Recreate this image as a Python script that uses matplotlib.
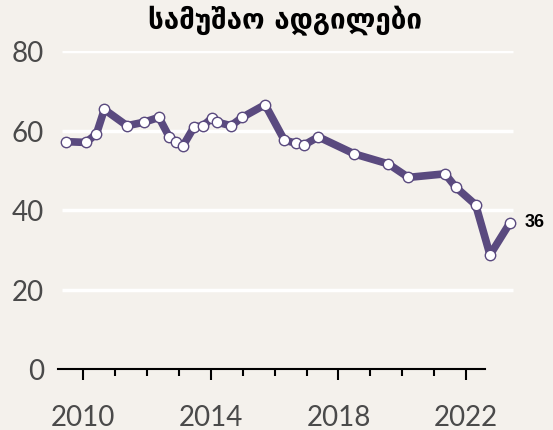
import matplotlib.pyplot as plt

# data
years = [2009.45, 2010.08, 2010.41, 2010.66, 2011.37, 2011.91, 2012.37,
         2012.70, 2012.91, 2013.13, 2013.48, 2013.74, 2014.03, 2014.20,
         2014.63, 2014.98, 2015.70, 2016.30, 2016.66, 2016.93, 2017.37,
         2018.50, 2019.56, 2020.19, 2021.34, 2021.68, 2022.30, 2022.75,
         2023.37]
values = [57.2, 57.0, 59.1, 65.3, 61.2, 62.1, 63.3, 58.3, 57.2, 56.2,
          61.0, 61.1, 63.1, 62.1, 61.2, 63.3, 66.5, 57.6, 56.8, 56.4,
          58.4, 54.1, 51.6, 48.2, 49.1, 45.7, 41.3, 28.7, 36.7]
last_label = '36'
title = 'სამუშაო ადგილები'
yticks = [0, 20, 40, 60, 80]
major_years = [2010, 2014, 2018, 2022]
minor_years = list(range(2010, 2023))

bg = '#f4f1ec'
purple = '#5a4a7f'

fig = plt.figure(figsize=(5.53, 4.31), dpi=100, facecolor=bg)
W, H = 553, 431
ax = fig.add_axes([58 / W, 1 - 370 / H, (515 - 58) / W, (370 - 52) / H])
ax.set_facecolor(bg)
ax.set_xlim(2009.207, 2023.533)
ax.set_ylim(0, 80)

# white gridlines
ax.hlines(yticks[1:], 2009.33, 2023.47, colors='white', lw=2.5, zorder=1)

ax.plot(years, values, color=purple, lw=5.5, solid_capstyle='round',
        solid_joinstyle='round', zorder=2)
ax.plot(years, values, 'o', ms=7.5, mfc='white', mec=purple, mew=1.0,
        zorder=3, clip_on=False)

ax.text(years[-1] + 0.48, values[-1] + 0.3, last_label, fontsize=13,
        fontweight='bold', family='Liberation Sans', va='center', ha='left')

for s in ['top', 'right', 'left']:
    ax.spines[s].set_visible(False)
ax.spines['bottom'].set_bounds(2009.207, 2022.59)
ax.spines['bottom'].set_linewidth(1.5)

ax.set_yticks(yticks)
ax.tick_params(axis='y', length=0, pad=10, labelsize=20, labelcolor='#4a4a4a')
ax.set_xticks(major_years)
ax.set_xticks(minor_years, minor=True)
ax.tick_params(axis='x', which='major', length=8, width=1.5, pad=17,
               labelsize=20, labelcolor='#4a4a4a')
ax.tick_params(axis='x', which='minor', length=5, width=1.5)
for lab in ax.get_xticklabels() + ax.get_yticklabels():
    lab.set_family('Lato')

fig.text(285 / W, 1 - 21 / H, title, ha='center', va='center',
         fontsize=20, fontweight='bold', family=['DejaVu Sans'])

fig.savefig('out.png', dpi=100, facecolor=bg)
